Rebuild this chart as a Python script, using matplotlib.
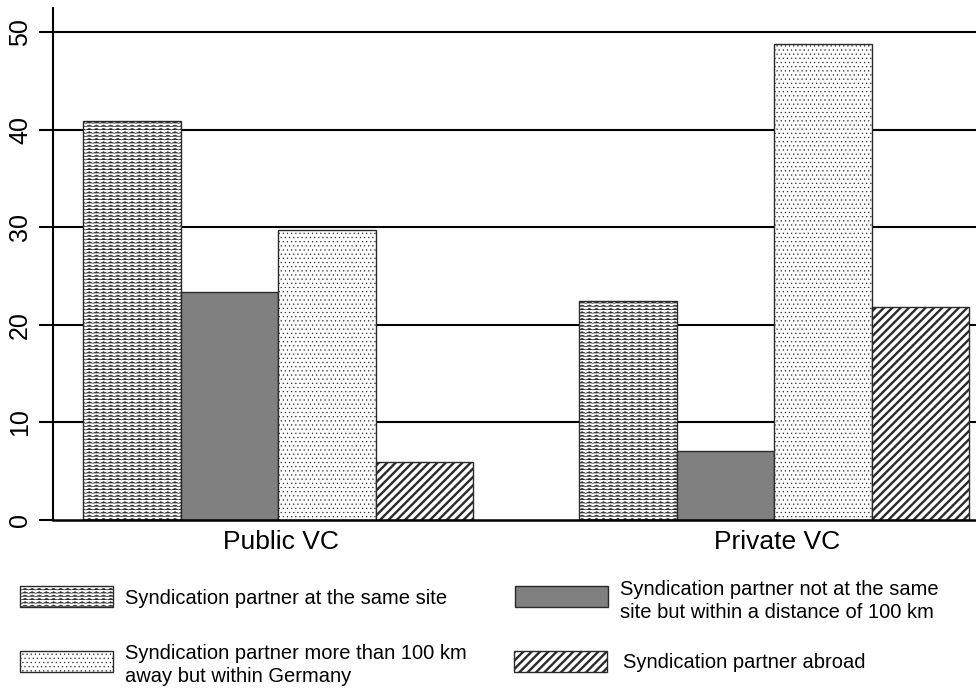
import warnings
warnings.filterwarnings("ignore")
import numpy as np
import matplotlib
matplotlib.use("Agg")
import matplotlib.pyplot as plt
import matplotlib.hatch as mhatch
from matplotlib.patches import Rectangle

# ---------------- data ----------------
categories = ["Public VC", "Private VC"]
series_labels = [
    "Syndication partner at the same site",
    "Syndication partner not at the same\nsite but within a distance of 100 km",
    "Syndication partner more than 100 km\naway but within Germany",
    "Syndication partner abroad",
]
same_site = [40.9, 22.5]
within_100km = [23.4, 7.1]
within_germany = [29.7, 48.8]
abroad = [5.9, 21.8]
y_ticks = [0, 10, 20, 30, 40, 50]


# ---------------- custom zigzag hatch ----------------
class ZigZagHatch(mhatch.HatchPatternBase):
    def __init__(self, hatch, density):
        n = hatch.count('z')
        self.num_rows = n * density
        self.num_waves = 14
        self.num_vertices = self.num_rows * (2 * self.num_waves + 1) if n else 0

    def set_vertices_and_codes(self, vertices, codes):
        per = 2 * self.num_waves + 1
        amp = 0.5 / self.num_rows
        xs = np.linspace(0, 1, per)
        bump = np.where(np.arange(per) % 2 == 1, amp, 0.0)
        for i in range(self.num_rows):
            y0 = i / self.num_rows
            sl = slice(i * per, (i + 1) * per)
            vertices[sl, 0] = xs
            vertices[sl, 1] = y0 + bump
            codes[sl] = mhatch.Path.LINETO
            codes[i * per] = mhatch.Path.MOVETO


mhatch._hatch_types.append(ZigZagHatch)

plt.rcParams['font.family'] = ['Liberation Sans', 'DejaVu Sans']

W, H = 976, 688
fig = plt.figure(figsize=(W / 100, H / 100), dpi=100)

ax_left, ax_right, ax_top, ax_bottom = 53, 976, 8, 520
ax = fig.add_axes([ax_left / W, 1 - ax_bottom / H,
                   (ax_right - ax_left) / W, (ax_bottom - ax_top) / H])

styles = [
    dict(facecolor='white', hatch='zzzzz', hlw=0.45, hc='#555555'),
    dict(facecolor='#808080', hatch=None, hlw=1.0, hc='#2a2a2a'),
    dict(facecolor='white', hatch='....', hlw=0.4, hc='#2a2a2a'),
    dict(facecolor='white', hatch='////', hlw=1.7, hc='#111111'),
]
edge = '#2a2a2a'

series = [same_site, within_100km, within_germany, abroad]
group_centers = np.array([0.0, 5.09])
offsets = [-1.5, -0.5, 0.5, 1.5]


def style_patch(p, st):
    try:
        p.set_hatch_linewidth(st['hlw'])
    except AttributeError:
        pass
    try:
        p.set_hatchcolor(st['hc'])
    except AttributeError:
        pass


for vals, off, st in zip(series, offsets, styles):
    bars = ax.bar(group_centers + off, vals, width=1.0, facecolor=st['facecolor'],
                  edgecolor=edge, linewidth=1.0, hatch=st['hatch'], zorder=3)
    for b in bars:
        style_patch(b, st)

ax.set_xlim(-2.31, 7.16)
ax.set_ylim(0, 52.5)
ax.set_yticks(y_ticks)
ax.set_yticklabels([str(t) for t in y_ticks], rotation=90, va='center', fontsize=18)
ax.set_xticks(group_centers + 0.03)
ax.set_xticklabels(categories, fontsize=19)
ax.tick_params(axis='x', length=0, pad=7)
ax.tick_params(axis='y', direction='out', length=10, width=1.5, pad=5)

for t in y_ticks[1:]:
    ax.axhline(t, color='black', linewidth=1.5, zorder=1)

for s in ['top', 'right']:
    ax.spines[s].set_visible(False)
ax.spines['left'].set_linewidth(1.5)
ax.spines['bottom'].set_linewidth(1.8)
ax.spines['bottom'].set_zorder(4)


# ---------------- legend (manual) ----------------
def fx(px):
    return px / W


def fy(py):
    return 1 - py / H


legend_boxes = [(20, 586), (515, 586), (20, 651), (514, 651)]
legend_text = [(125, 598, 'center'), (620, 580, 'top'), (125, 644, 'top'), (623, 662, 'center')]
bw, bh = 93, 21

for (bx, by), (tx, ty, va), st, lab in zip(legend_boxes, legend_text, styles, series_labels):
    r = Rectangle((fx(bx), fy(by + bh)), bw / W, bh / H, transform=fig.transFigure,
                  facecolor=st['facecolor'], edgecolor=edge, linewidth=1.0,
                  hatch=st['hatch'])
    style_patch(r, st)
    fig.add_artist(r)
    fig.text(fx(tx), fy(ty), lab, fontsize=14.5, va=va, ha='left', linespacing=1.3)

fig.savefig('out.png', dpi=100)
